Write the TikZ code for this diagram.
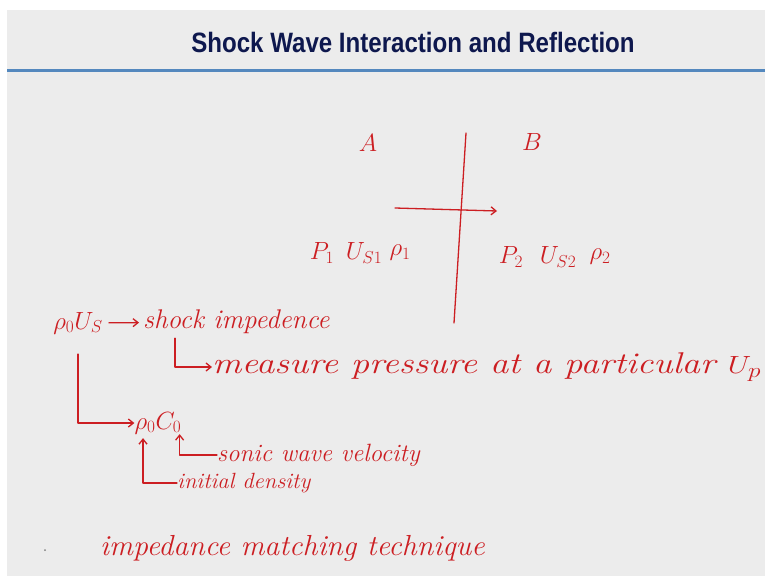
\documentclass[tikz,border=0pt]{standalone}
\usepackage{fontspec}
\usepackage{amsmath}
\usetikzlibrary{arrows.meta}
\newfontfamily\titlefont{Liberation Sans}
\definecolor{inkred}{RGB}{204,30,34}
\definecolor{slidegray}{RGB}{236,236,236}
\definecolor{titlenavy}{RGB}{14,24,78}
\definecolor{rulesteel}{RGB}{84,136,190}

\begin{document}
\begin{tikzpicture}[
    x=1pt, y=-1pt,
    >={Straight Barb[length=5pt,width=8pt]},
    ink/.style={inkred, line width=1.3pt, line cap=round, line join=round},
    hand/.style={text=inkred, inner sep=0pt,
                 font=\itshape\fontsize{#1}{#1}\selectfont},
    hand/.default=24pt,
    sym/.style={text=inkred, inner sep=0pt,
                font=\fontsize{#1}{#1}\selectfont},
    sym/.default=26pt
]

% ---------- slide ----------
\useasboundingbox (0,0) rectangle (765,578);
\fill[white] (0,0) rectangle (765,578);
\fill[slidegray] (7,10) rectangle (765,576);
\draw[rulesteel, line width=3pt] (7,70) -- (765,70);
\node[text=titlenavy, font=\titlefont\bfseries\fontsize{28}{30}\selectfont,
      xscale=0.86] (title) at (413,42) {Shock Wave Interaction and Reflection};

% ---------- interface between A and B ----------
\node[sym=36pt] (matA) at (368,143) {$A$};
\node[sym=36pt] (matB) at (532,142) {$B$};
\coordinate (wtop) at (466,133);
\coordinate (wbot) at (454,323);
\draw[ink] (wtop) -- (wbot);
\coordinate (ain) at (395,208);
\coordinate (aout) at (497,211);
\draw[ink, ->] (ain) -- (aout);

% ---------- states either side ----------
\node[sym] (pone) at (322,253) {$P_1$};
\node[sym] (usone) at (364,253) {$U_{S1}$};
\node[sym] (rhoone) at (400,253) {$\rho_1$};
\node[sym] (ptwo) at (511,257) {$P_2$};
\node[sym] (ustwo) at (558,257) {$U_{S2}$};
\node[sym] (rhotwo) at (600,257) {$\rho_2$};

% ---------- impedances ----------
\node[sym] (rhous) at (78,323) {$\rho_0 U_S$};
\node[hand=27pt, anchor=west] (shock) at (143,322) {shock impedence};
\draw[ink, ->, shorten <=6pt, shorten >=4pt] (rhous) -- (shock);
\node[hand=30pt, anchor=west, xscale=1.22] (meas) at (212,367) {measure pressure at a particular $U_p$};
\draw[ink, ->] ([xshift=32pt, yshift=-4pt]shock.south west) |- (meas.west);

\node[sym] (rhoc) at (158,423) {$\rho_0 C_0$};
\draw[ink, ->] ([yshift=-20pt]rhous.south) |- (rhoc.west);
\node[hand=25pt, anchor=west] (sonic) at (217,455) {sonic wave velocity};
\draw[ink, ->] (sonic.west) -| ([xshift=-2pt]rhoc.south east);
\node[hand=22pt, anchor=west, xscale=1.03] (init) at (177,483) {initial density};
\draw[ink, ->] (init.west) -| ([xshift=-15pt, yshift=-4pt]rhoc.south);

% ---------- bottom line ----------
\fill[gray] (45,550) circle (1pt);
\node[hand=29pt, anchor=west, xscale=1.03] (match) at (100,548) {impedance matching technique};

\end{tikzpicture}
\end{document}
